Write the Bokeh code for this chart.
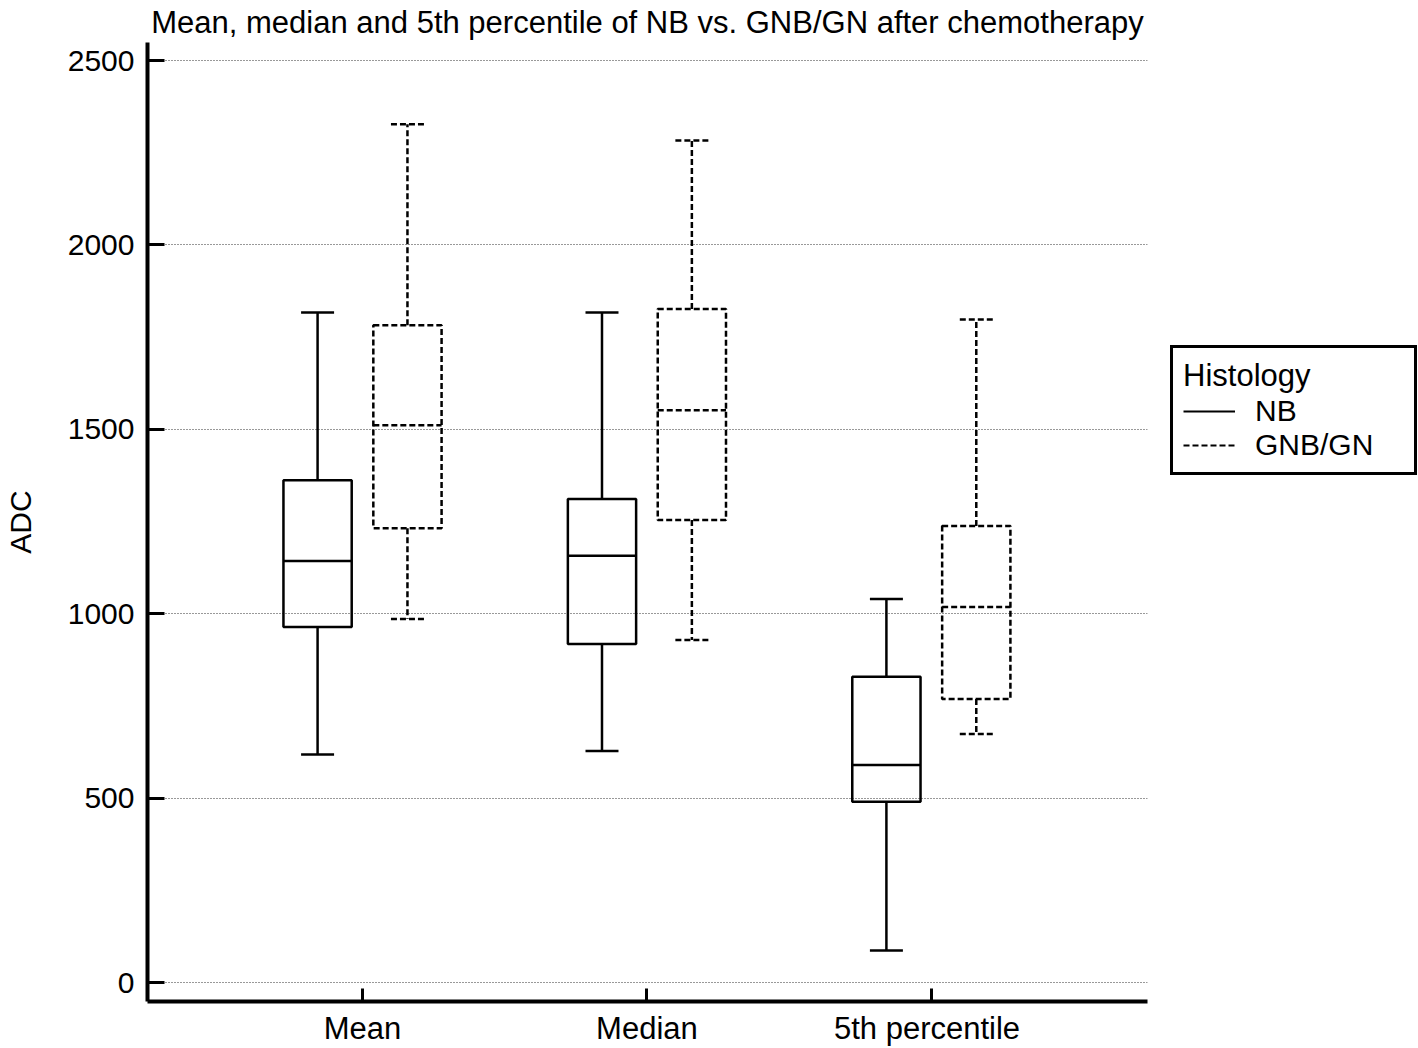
from bokeh.plotting import figure
from bokeh.layouts import row
from bokeh.models import Range1d, FixedTicker, Legend, LegendItem, ColumnDataSource
from bokeh.embed import file_html
from bokeh.resources import INLINE

# ---- data ----
categories = ["Mean", "Median", "5th  percentile"]
groups = ["NB", "GNB/GN"]

nb_low = [618, 628, 87]
nb_q1 = [964, 918, 490]
nb_median = [1143, 1157, 590]
nb_q3 = [1362, 1311, 829]
nb_high = [1817, 1817, 1040]

gn_low = [986, 929, 674]
gn_q1 = [1232, 1254, 769]
gn_median = [1511, 1552, 1018]
gn_q3 = [1782, 1826, 1238]
gn_high = [2327, 2283, 1798]

y_ticks = [0, 500, 1000, 1500, 2000, 2500]

FONT = "Liberation Sans"

p = figure(width=1160, height=1048, output_backend="svg", toolbar_location=None,
           x_range=Range1d(0.244, 3.76), y_range=Range1d(-51.5, 2549),
           min_border_left=147, min_border_right=13, min_border_top=40, min_border_bottom=46,
           title="Mean, median and 5th percentile of NB vs. GNB/GN after chemotherapy")
p.outline_line_color = None
p.background_fill_color = "white"
p.border_fill_color = "white"

p.title.text_font = FONT
p.title.text_font_size = "31px"
p.title.text_font_style = "normal"
p.title.text_color = "black"
p.title.align = "center"
p.title.standoff = 5
p.title.offset = 0

# axes
p.xaxis.ticker = FixedTicker(ticks=[i + 1 for i in range(len(categories))])
p.xaxis.major_label_overrides = {i + 1: c for i, c in enumerate(categories)}
p.yaxis.ticker = FixedTicker(ticks=y_ticks)
p.yaxis.axis_label = "ADC"
for ax in (p.xaxis[0], p.yaxis[0]):
    ax.axis_line_width = 4
    ax.axis_line_color = "black"
    ax.major_tick_line_width = 3
    ax.major_tick_line_color = "black"
    ax.major_tick_out = 0
    ax.minor_tick_line_color = None
    ax.major_label_text_font = FONT
    ax.major_label_text_color = "black"
    ax.axis_label_text_font = FONT
    ax.axis_label_text_font_size = "30px"
    ax.axis_label_text_font_style = "normal"
    ax.axis_label_text_color = "black"
p.xaxis.major_label_text_font_size = "31px"
p.yaxis.major_label_text_font_size = "30px"
p.xaxis.major_tick_in = 13
p.yaxis.major_tick_in = 17
p.xaxis.major_label_standoff = 9
p.yaxis.major_label_standoff = 13
p.yaxis.axis_label_standoff = 28

p.xgrid.grid_line_color = None
p.ygrid.ticker = FixedTicker(ticks=y_ticks)
p.ygrid.grid_line_color = "#333333"
p.ygrid.grid_line_dash = "1 2"
p.ygrid.grid_line_width = 1

OFFSET = 0.158
BOX_HALF = 0.12
CAP_HALF = 0.058

series = [
    ("NB", nb_low, nb_q1, nb_median, nb_q3, nb_high, -OFFSET, "solid"),
    ("GNB/GN", gn_low, gn_q1, gn_median, gn_q3, gn_high, OFFSET, "6 3"),
]

# separate panel that only carries the legend (right of the plot frame)
pl = figure(width=258, height=1048, output_backend="svg", toolbar_location=None,
            x_range=Range1d(0, 1), y_range=Range1d(0, 1),
            x_axis_type=None, y_axis_type=None,
            min_border_left=0, min_border_right=0, min_border_top=0, min_border_bottom=0)
pl.outline_line_color = None
pl.xgrid.grid_line_color = None
pl.ygrid.grid_line_color = None
pl.background_fill_color = "white"
pl.border_fill_color = "white"

legend_items = []
for name, low, q1, med, q3, high, off, dash in series:
    xs = [i + 1 + off for i in range(len(categories))]
    src = ColumnDataSource(dict(
        x=xs,
        left=[x - BOX_HALF for x in xs], right=[x + BOX_HALF for x in xs],
        cl=[x - CAP_HALF for x in xs], cr=[x + CAP_HALF for x in xs],
        low=low, q1=q1, med=med, q3=q3, high=high,
    ))
    style = dict(line_color="black", line_width=2.5, line_dash=dash)
    p.segment(x0="x", y0="q3", x1="x", y1="high", source=src, **style)
    p.segment(x0="x", y0="q1", x1="x", y1="low", source=src, **style)
    p.segment(x0="cl", y0="high", x1="cr", y1="high", source=src, **style)
    p.segment(x0="cl", y0="low", x1="cr", y1="low", source=src, **style)
    p.quad(left="left", right="right", bottom="q1", top="q3", source=src,
           fill_color=None, **style)
    p.segment(x0="left", y0="med", x1="right", y1="med", source=src, **style)
    # legend key: same whisker data, lies outside the legend panel's view
    key = pl.segment(x0="x", y0="q3", x1="x", y1="high", source=src,
                     line_color="black", line_width=2, line_dash=dash)
    legend_items.append(LegendItem(label=name, renderers=[key]))

legend = Legend(items=legend_items, title="Histology", location=(10, 526))
legend.border_line_color = "black"
legend.border_line_alpha = 1
legend.border_line_width = 3
legend.background_fill_color = "white"
legend.background_fill_alpha = 1
legend.padding = 10
legend.margin = 0
legend.spacing = 0
legend.glyph_width = 52
legend.glyph_height = 34
legend.label_height = 34
legend.label_width = 149
legend.label_standoff = 20
legend.label_text_font = FONT
legend.label_text_font_size = "30px"
legend.label_text_color = "black"
legend.title_text_font = FONT
legend.title_text_font_size = "31px"
legend.title_text_font_style = "normal"
legend.title_text_color = "black"
legend.title_standoff = 0
pl.add_layout(legend)

layout = row(p, pl)
open("out.html", "w").write(file_html(layout, INLINE))
